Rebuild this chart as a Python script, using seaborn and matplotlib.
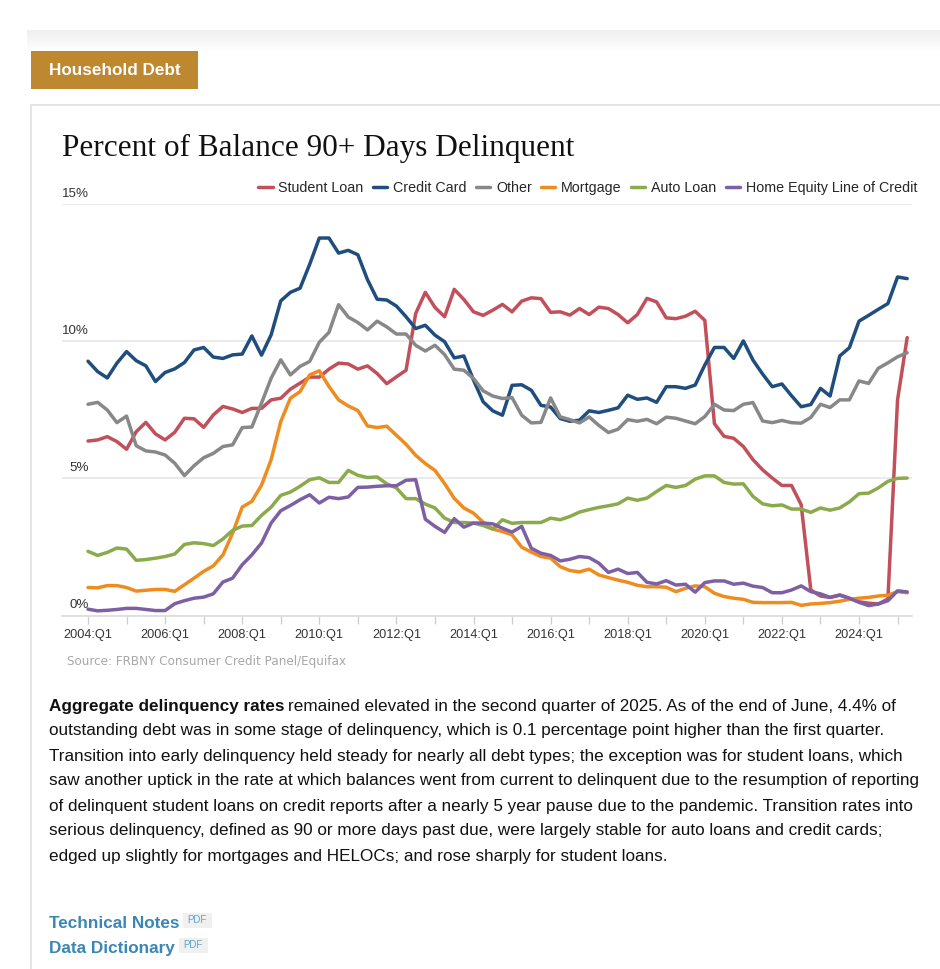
import numpy as np
import pandas as pd
import matplotlib
matplotlib.use('Agg')
import matplotlib.pyplot as plt
import matplotlib.transforms as mtrans
from matplotlib.patches import Rectangle
import seaborn as sns

# -------------------------------
# DATA
# -------------------------------

quarters = [f"{y}:Q{q}" for y in range(2004, 2026) for q in range(1, 5)][:86]

student_loan = [
    6.36, 6.40, 6.52, 6.34, 6.06, 6.70, 7.04, 6.62, 6.40, 6.68, 7.19, 7.17, 6.86, 7.31, 7.62, 7.53,
    7.40, 7.55, 7.55, 7.86, 7.92, 8.25, 8.47, 8.69, 8.69, 8.98, 9.20, 9.17, 8.98, 9.10, 8.82, 8.45,
    8.70, 8.94, 11.01, 11.78, 11.23, 10.89, 11.89, 11.52, 11.07, 10.94, 11.13, 11.34, 11.07, 11.46,
    11.58, 11.55, 11.05, 11.07, 10.95, 11.19, 10.97, 11.24, 11.19, 10.97, 10.67, 10.97, 11.56, 11.43,
    10.85, 10.82, 10.91, 11.09, 10.76, 6.99, 6.53, 6.46, 6.16, 5.68, 5.31, 5.01, 4.74, 4.74, 4.04,
    0.93, 0.71, 0.66, 0.75, 0.63, 0.50, 0.45, 0.42, 0.60, 7.86, 10.13,
]
credit_card = [
    9.27, 8.89, 8.66, 9.20, 9.62, 9.29, 9.10, 8.53, 8.86, 8.99, 9.22, 9.68, 9.77, 9.42, 9.37, 9.50,
    9.53, 10.19, 9.49, 10.23, 11.47, 11.78, 11.93, 12.80, 13.76, 13.76, 13.21, 13.31, 13.15, 12.24,
    11.53, 11.50, 11.28, 10.89, 10.46, 10.58, 10.22, 9.98, 9.39, 9.46, 8.58, 7.79, 7.46, 7.30, 8.39,
    8.41, 8.21, 7.66, 7.60, 7.18, 7.08, 7.12, 7.46, 7.40, 7.48, 7.57, 8.03, 7.88, 7.93, 7.77, 8.34,
    8.34, 8.28, 8.40, 9.13, 9.77, 9.77, 9.37, 10.01, 9.31, 8.80, 8.34, 8.44, 8.01, 7.61, 7.69, 8.28,
    8.00, 9.46, 9.76, 10.73, 10.94, 11.16, 11.37, 12.34, 12.28,
]
other = [
    7.70, 7.77, 7.49, 7.03, 7.27, 6.19, 6.00, 5.96, 5.85, 5.55, 5.10, 5.46, 5.75, 5.91, 6.16, 6.22,
    6.85, 6.87, 7.74, 8.65, 9.32, 8.77, 9.08, 9.26, 9.96, 10.32, 11.33, 10.88, 10.68, 10.41, 10.73,
    10.52, 10.26, 10.26, 9.85, 9.64, 9.85, 9.51, 8.98, 8.94, 8.64, 8.19, 8.00, 7.91, 7.94, 7.30, 7.02,
    7.04, 7.93, 7.24, 7.14, 7.02, 7.24, 6.93, 6.67, 6.79, 7.14, 7.08, 7.15, 6.99, 7.23, 7.19, 7.09,
    6.99, 7.25, 7.70, 7.49, 7.47, 7.70, 7.76, 7.09, 7.03, 7.11, 7.03, 7.01, 7.22, 7.70, 7.58, 7.86,
    7.86, 8.55, 8.46, 9.01, 9.21, 9.43, 9.58,
]
mortgage = [
    1.02, 1.01, 1.09, 1.09, 1.02, 0.89, 0.92, 0.95, 0.95, 0.88, 1.12, 1.36, 1.61, 1.81, 2.21, 3.00,
    3.95, 4.16, 4.75, 5.68, 7.07, 7.92, 8.16, 8.77, 8.92, 8.35, 7.86, 7.64, 7.47, 6.91, 6.85, 6.90,
    6.57, 6.24, 5.84, 5.54, 5.29, 4.81, 4.27, 3.92, 3.73, 3.40, 3.15, 3.06, 2.94, 2.49, 2.31, 2.15,
    2.09, 1.78, 1.64, 1.59, 1.69, 1.48, 1.38, 1.29, 1.21, 1.10, 1.05, 1.05, 1.03, 0.87, 0.99, 1.08,
    1.05, 0.81, 0.69, 0.63, 0.59, 0.48, 0.47, 0.47, 0.47, 0.48, 0.37, 0.42, 0.44, 0.47, 0.52, 0.59,
    0.63, 0.66, 0.71, 0.74, 0.87, 0.83,
]
auto_loan = [
    2.34, 2.19, 2.30, 2.46, 2.42, 2.01, 2.04, 2.09, 2.15, 2.24, 2.59, 2.65, 2.62, 2.55, 2.79, 3.10,
    3.26, 3.28, 3.65, 3.95, 4.38, 4.50, 4.71, 4.95, 5.02, 4.85, 4.85, 5.29, 5.11, 5.03, 5.05, 4.80,
    4.65, 4.26, 4.26, 4.06, 3.92, 3.55, 3.39, 3.39, 3.37, 3.28, 3.15, 3.49, 3.36, 3.39, 3.39, 3.39,
    3.55, 3.49, 3.61, 3.77, 3.86, 3.94, 4.00, 4.07, 4.28, 4.20, 4.28, 4.52, 4.74, 4.67, 4.74, 4.97,
    5.09, 5.09, 4.85, 4.79, 4.80, 4.34, 4.07, 4.00, 4.03, 3.88, 3.88, 3.76, 3.92, 3.84, 3.92, 4.14,
    4.44, 4.46, 4.65, 4.89, 5.00, 5.01,
]
heloc = [
    0.23, 0.17, 0.19, 0.22, 0.26, 0.26, 0.22, 0.18, 0.18, 0.43, 0.54, 0.63, 0.67, 0.79, 1.22, 1.36,
    1.85, 2.21, 2.64, 3.37, 3.82, 4.01, 4.22, 4.40, 4.10, 4.31, 4.26, 4.32, 4.67, 4.68, 4.71, 4.73,
    4.73, 4.93, 4.95, 3.51, 3.25, 3.03, 3.53, 3.22, 3.37, 3.37, 3.34, 3.18, 3.04, 3.25, 2.45, 2.27,
    2.19, 1.99, 2.05, 2.15, 2.11, 1.91, 1.57, 1.69, 1.53, 1.57, 1.21, 1.15, 1.27, 1.11, 1.14, 0.85,
    1.20, 1.26, 1.26, 1.14, 1.18, 1.07, 1.02, 0.83, 0.83, 0.93, 1.08, 0.87, 0.79, 0.66, 0.74, 0.63,
    0.48, 0.36, 0.42, 0.54, 0.90, 0.86,
]

series_names = ['Student Loan', 'Credit Card', 'Other', 'Mortgage', 'Auto Loan', 'Home Equity Line of Credit']
series_values = [student_loan, credit_card, other, mortgage, auto_loan, heloc]
series_colors = ['#C1505A', '#1F4E7E', '#888888', '#EE8C1F', '#8BAA4B', '#7D5FA3']

y_ticks = [0, 5, 10, 15]
y_labels = ['0%', '5%', '10%', '15%']

body_lines = [
    "remained elevated in the second quarter of 2025. As of the end of June, 4.4% of",
    "outstanding debt was in some stage of delinquency, which is 0.1 percentage point higher than the first quarter.",
    "Transition into early delinquency held steady for nearly all debt types; the exception was for student loans, which",
    "saw another uptick in the rate at which balances went from current to delinquent due to the resumption of reporting",
    "of delinquent student loans on credit reports after a nearly 5 year pause due to the pandemic. Transition rates into",
    "serious delinquency, defined as 90 or more days past due, were largely stable for auto loans and credit cards;",
    "edged up slightly for mortgages and HELOCs; and rose sharply for student loans.",
]

# -------------------------------
# FIGURE
# -------------------------------

sns.set_theme(style='white')
plt.rcParams['font.family'] = ['Liberation Sans', 'DejaVu Sans']

W, H = 940, 969
fig = plt.figure(figsize=(W / 100, H / 100), dpi=100, facecolor='white')

# page furniture, drawn in pixel coordinates
page = fig.add_axes([0, 0, 1, 1], zorder=0)
grad = np.linspace(0.935, 1.0, 40).reshape(-1, 1)
page.imshow(grad, extent=(27, 940, 52, 30), cmap='gray', vmin=0, vmax=1, aspect='auto')
page.set_xlim(0, W)
page.set_ylim(H, 0)
page.axis('off')

page.add_patch(Rectangle((31, 51), 167, 38, fc='#BD8830', ec='none'))
page.text(115, 70, 'Household Debt', color='white', fontsize=12.3, fontweight='bold', ha='center', va='center')
page.plot([31, 940], [105, 105], color='#DEDEDE', lw=1.1)
page.plot([31, 31], [105, 969], color='#DEDEDE', lw=1.1)

page.text(62, 148, 'Percent of Balance 90+ Days Delinquent', family='Liberation Serif',
          fontsize=22.5, color='#111111', ha='left', va='center')
page.text(67, 661, 'Source: FRBNY Consumer Credit Panel/Equifax', family='DejaVu Sans',
          fontsize=8.65, color='#A8A8A8', ha='left', va='center')

# body text
lead = page.text(49, 706, 'Aggregate delinquency rates', fontsize=12.3, fontweight='bold',
                 color='#111111', ha='left', va='center')
fig.canvas.draw()
lead_right = lead.get_window_extent().x1
for i, line in enumerate(body_lines):
    x = lead_right + 4 if i == 0 else 49
    page.text(x, 706 + 25 * i, line, fontsize=12.3, color='#111111', ha='left', va='center')

# links
for label, y, pdf_x in [('Technical Notes', 923, 183), ('Data Dictionary', 948, 179)]:
    page.text(49, y, label, fontsize=12.3, fontweight='bold', color='#3A87B5', ha='left', va='center')
    page.add_patch(Rectangle((pdf_x, y - 10), 29, 15, fc='#F0F0F0', ec='none'))
    page.text(pdf_x + 14, y - 3, 'PDF', fontsize=7, color='#5BA5D0', ha='center', va='center')

# -------------------------------
# CHART
# -------------------------------

df = pd.DataFrame({'Quarter': quarters})
for name, values in zip(series_names, series_values):
    df[name] = values
long_df = df.melt(id_vars='Quarter', var_name='Series', value_name='Percent')

ax = fig.add_axes([62 / W, 1 - 615.5 / H, 850 / W, (615.5 - 204) / H], zorder=1)
ax.patch.set_alpha(0)

sns.lineplot(
    data=long_df,
    x='Quarter',
    y='Percent',
    hue='Series',
    hue_order=series_names,
    palette=dict(zip(series_names, series_colors)),
    linewidth=2.5,
    sort=False,
    errorbar=None,
    ax=ax
)

ax.set_xlim(-2.7, 85.5)
ax.set_ylim(0, 15)
ax.set_xlabel('')
ax.set_ylabel('')

ax.set_yticks(y_ticks)
ax.set_yticklabels(y_labels)
ax.tick_params(axis='y', length=0, pad=-19.5, labelsize=9.6, labelcolor='#333333')
shift = mtrans.ScaledTranslation(0, 4 / 100, fig.dpi_scale_trans)
for lab in ax.get_yticklabels():
    lab.set_va('bottom')
    lab.set_transform(lab.get_transform() + shift)
ax.grid(axis='y', color='#E4E4E4', lw=1.1)
ax.set_axisbelow(True)

ax.set_xticks(range(0, 86, 4))
ax.set_xticklabels([q if i % 8 == 0 else '' for i, q in enumerate(quarters) if i % 4 == 0])
ax.tick_params(axis='x', bottom=True, length=5.5, width=0.9, color='#CCCCCC', pad=4,
               labelsize=9.2, labelcolor='#333333')

for side in ['top', 'left', 'right']:
    ax.spines[side].set_visible(False)
ax.spines['bottom'].set_color('#DDDDDD')

sns.move_legend(
    ax,
    loc='center right',
    bbox_to_anchor=(917 / W, 1 - 188 / H),
    bbox_transform=fig.transFigure,
    ncol=6,
    title=None,
    frameon=False,
    fontsize=10.3,
    handlelength=1.0,
    handletextpad=0.4,
    columnspacing=0.65,
    borderpad=0,
    borderaxespad=0
)

plt.savefig('out.png', dpi=100)
plt.close()
